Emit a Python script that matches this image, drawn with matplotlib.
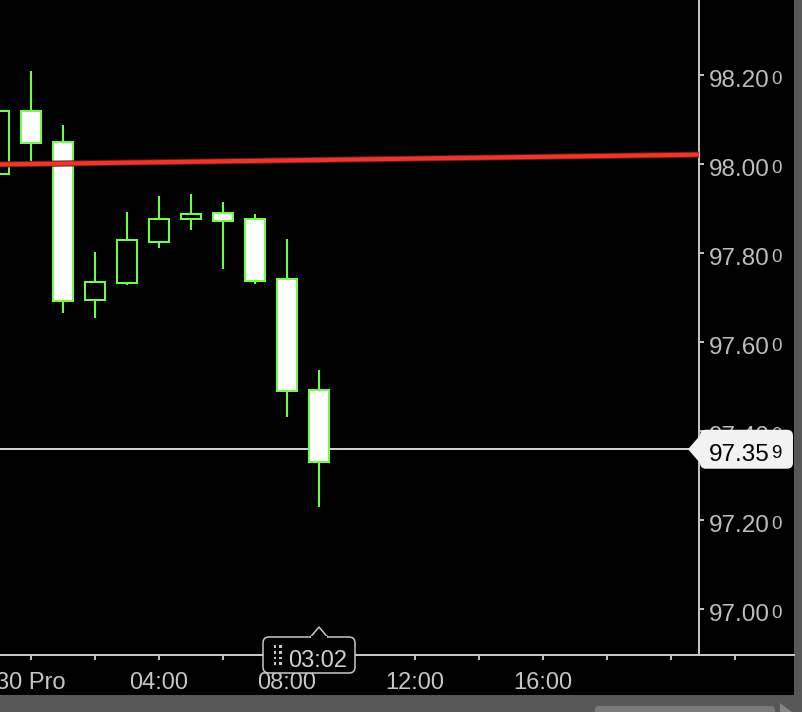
import numpy as np
import matplotlib
matplotlib.use("Agg")
import matplotlib.pyplot as plt
import matplotlib.transforms as mtransforms
from matplotlib.patches import Rectangle, FancyBboxPatch, Polygon

plt.rcParams['font.family'] = ['Liberation Sans', 'DejaVu Sans']

# hourly candles (hour 0 = session start)
hours = np.arange(-1, 10)
opens = np.array([97.978, 98.119, 98.049, 97.694, 97.733, 97.825, 97.876, 97.890, 97.876, 97.742, 97.492])
highs = np.array([98.125, 98.209, 98.088, 97.802, 97.892, 97.928, 97.933, 97.915, 97.888, 97.831, 97.537])
lows = np.array([97.972, 98.007, 97.665, 97.654, 97.728, 97.811, 97.852, 97.764, 97.730, 97.431, 97.229])
closes = np.array([98.119, 98.047, 97.692, 97.735, 97.829, 97.876, 97.888, 97.872, 97.737, 97.490, 97.330])

last_price = 97.359
last_main, last_small = '97.35', '9'
trend_x = [-1.0, 20.875]
trend_y = [97.999, 98.021]

y_ticks = [97.0, 97.2, 97.4, 97.6, 97.8, 98.0, 98.2]
y_main = ['97.00', '97.20', '97.40', '97.60', '97.80', '98.00', '98.20']
y_small = '0'
x_ticks = np.arange(0, 23, 2)
x_names = {0: '30 Pro', 4: '04:00', 8: '08:00', 12: '12:00', 16: '16:00'}
countdown = '03:02'

green = '#6bff45'
axis_col = '#c4c4c4'
label_col = '#bdbdbd'
price_axis_x = 20.875

W, H = 802, 712
fig = plt.figure(figsize=(W / 100, H / 100), dpi=100, facecolor='#575757')
fig.add_artist(Rectangle((0, (H - 695) / H), 794 / W, 695 / H, transform=fig.transFigure,
                         facecolor='black', edgecolor='none', zorder=0))
# scrollbar thumb
fig.add_artist(FancyBboxPatch((595, -4), 180, 10, boxstyle='round,pad=0,rounding_size=4',
                              transform=mtransforms.IdentityTransform(),
                              facecolor='#7b7b7b', edgecolor='none'))
fig.add_artist(Polygon([(780, 9), (780, 0), (792, 0)], closed=True,
                       transform=mtransforms.IdentityTransform(),
                       facecolor='#868686', edgecolor='none'))

ax = fig.add_axes([0, (H - 655) / H, 794 / W, 655 / H])
ax.set_facecolor('black')
ax.set_xlim(-31 / 32, (794 - 31) / 32)
ax.set_ylim(96.8966, 98.3685)

for s in ['top', 'left']:
    ax.spines[s].set_visible(False)
ax.spines['bottom'].set_color(axis_col)
ax.spines['bottom'].set_linewidth(1.44)
ax.spines['right'].set_position(('data', price_axis_x))
ax.spines['right'].set_color(axis_col)
ax.spines['right'].set_linewidth(1.44)

ax.yaxis.tick_right()
ax.set_yticks(y_ticks)
ax.set_yticklabels([])
ax.tick_params(axis='y', direction='out', length=3.5, width=1.4, color=axis_col)
ax.set_xticks(x_ticks)
ax.set_xticklabels([x_names.get(int(t), '') for t in x_ticks])
ax.tick_params(axis='x', direction='out', length=3.5, width=1.4, color=axis_col,
               labelcolor='#c6c6c6', labelsize=17, pad=9)

# last price line (behind the candles)
ax.hlines(last_price, ax.get_xlim()[0], price_axis_x - 10 / 32, color='#cfcfcf', lw=1.44, zorder=1.5)

# candles
up = closes >= opens
ax.vlines(hours, lows, highs, color=green, lw=1.5, zorder=2)
ax.bar(hours, np.abs(closes - opens), bottom=np.minimum(opens, closes), width=0.6,
       color=np.where(up, 'black', 'white'), edgecolor=green, linewidth=1.44, zorder=3)

# trend line
ax.plot(trend_x, trend_y, color='#6e170f', lw=4.4, solid_capstyle='butt', zorder=4)
ax.plot(trend_x, trend_y, color='#e8382b', lw=3.0, solid_capstyle='butt', zorder=4)

# price labels
big_off = mtransforms.offset_copy(ax.transData, fig, x=10, y=-12, units='dots')
small_off = mtransforms.offset_copy(ax.transData, fig, x=72, y=-9.0, units='dots')
for p, lab in zip(y_ticks, y_main):
    ax.text(price_axis_x, p, lab, transform=big_off, ha='left', va='baseline',
            fontsize=17.5, color=label_col, zorder=5, clip_on=False)
    ax.text(price_axis_x, p, y_small, transform=small_off, ha='left', va='baseline',
            fontsize=13.5, color=label_col, zorder=5, clip_on=False)

# last price tag
idt = mtransforms.IdentityTransform()
px, py = ax.transData.transform((price_axis_x, last_price))
ax.add_patch(FancyBboxPatch((px + 1, py - 19.5), 93, 39, boxstyle='round,pad=0,rounding_size=6',
                            transform=idt, facecolor='#f2f2f2', edgecolor='none',
                            zorder=6, clip_on=False))
ax.add_patch(Polygon([(px - 11, py), (px + 6, py + 19.5), (px + 6, py - 19.5)], closed=True,
                     transform=idt, facecolor='#f2f2f2', edgecolor='none', zorder=6, clip_on=False))
ax.text(price_axis_x, last_price, last_main, transform=big_off, ha='left', va='baseline',
        fontsize=17.5, color='black', zorder=7, clip_on=False)
ax.text(price_axis_x, last_price, last_small, transform=small_off, ha='left', va='baseline',
        fontsize=13.5, color='black', zorder=7, clip_on=False)

# countdown tag under the last candle
cx, cy = ax.transData.transform((hours[-1], ax.get_ylim()[0]))
ax.add_patch(FancyBboxPatch((cx - 56, cy - 18), 92, 36, boxstyle='round,pad=0,rounding_size=6',
                            transform=idt, facecolor='black', edgecolor='#c8c8c8', lw=1.1,
                            zorder=6, clip_on=False))
ax.add_patch(Polygon([(cx - 9, cy + 17.3), (cx, cy + 28), (cx + 9, cy + 17.3)], closed=False,
                     transform=idt, facecolor='black', edgecolor='#c8c8c8', lw=1.1,
                     zorder=6, clip_on=False))
ax.add_patch(Rectangle((cx - 8.3, cy + 16.5), 16.6, 2.5, transform=idt, facecolor='black',
                       edgecolor='none', zorder=6.5, clip_on=False))
for dx in [-44, -38.7]:
    for dy in [8.3, 2.7, -3.0, -8.7]:
        ax.add_patch(Rectangle((cx + dx - 1.4, cy + dy - 1.4), 2.8, 2.8, transform=idt,
                               facecolor='#c8c8c8', edgecolor='none', zorder=7, clip_on=False))
ax.text(hours[-1], ax.get_ylim()[0], countdown,
        transform=mtransforms.offset_copy(ax.transData, fig, x=-31, y=-11.7, units='dots'),
        ha='left', va='baseline', fontsize=17, color='#d0d0d0', zorder=7, clip_on=False)

fig.savefig('out.png', dpi=100, facecolor=fig.get_facecolor())
